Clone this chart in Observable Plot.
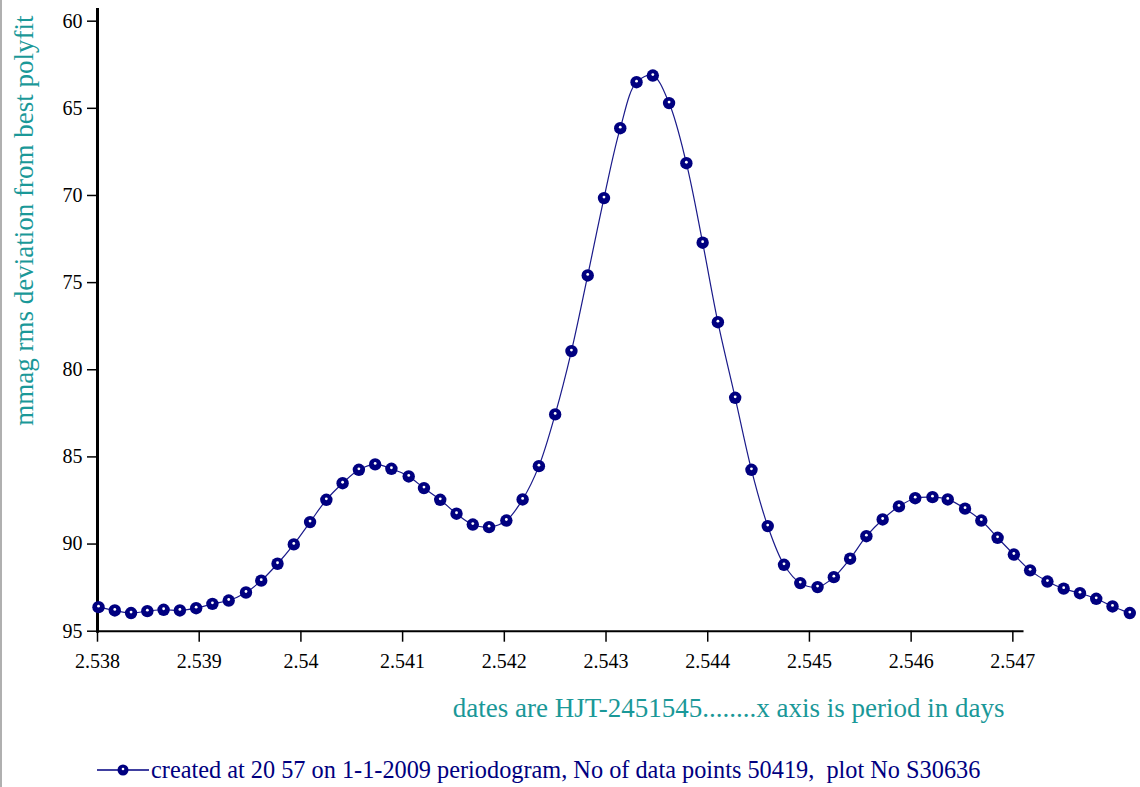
<!DOCTYPE html>
<html>
<head>
<meta charset="utf-8">
<script src="https://cdn.jsdelivr.net/npm/d3@7"></script>
<script src="https://cdn.jsdelivr.net/npm/@observablehq/plot@0.6"></script>
<style>
  html, body { margin: 0; padding: 0; background: #fff; }
  body { position: relative; width: 1140px; height: 787px; overflow: hidden; font-family: "Liberation Serif", "Times New Roman", serif; }
  #chart { position: absolute; left: 0; top: 0; }
  #edge { position: absolute; left: 0; top: 0; width: 2px; height: 787px; background: #b0b0b0; }
  #legend { position: absolute; left: 97px; top: 754px; height: 32px; display: flex; align-items: center; color: #000080; font-size: 24.3px; white-space: pre; }
  #legend svg { margin-right: 2px; }
</style>
</head>
<body>
<div id="chart"></div>
<div id="legend"></div>
<div id="edge"></div>
<script>
// period in days (x) and mmag rms deviation (y)
const periods = [
  2.53801, 2.53817, 2.53833, 2.53849, 2.53865, 2.53881, 2.53897, 2.53913,
  2.53929, 2.53946, 2.53961, 2.53977, 2.53993, 2.54009, 2.54025, 2.54041,
  2.54057, 2.54073, 2.54089, 2.54106, 2.54121, 2.54137, 2.54153, 2.54169,
  2.54185, 2.54202, 2.54218, 2.54234, 2.54250, 2.54266, 2.54282, 2.54298,
  2.54314, 2.54330, 2.54346, 2.54362, 2.54379, 2.54395, 2.54410, 2.54427,
  2.54443, 2.54459, 2.54475, 2.54491, 2.54508, 2.54524, 2.54540, 2.54556,
  2.54572, 2.54588, 2.54604, 2.54621, 2.54636, 2.54653, 2.54669, 2.54685,
  2.54701, 2.54717, 2.54734, 2.54750, 2.54766, 2.54782, 2.54798, 2.54815
];
const rmsDev = [
  93.62, 93.81, 93.96, 93.85, 93.77, 93.81, 93.68, 93.43,
  93.24, 92.78, 92.10, 91.13, 90.02, 88.74, 87.46, 86.51,
  85.74, 85.43, 85.68, 86.12, 86.79, 87.46, 88.26, 88.88,
  89.03, 88.65, 87.44, 85.53, 82.56, 78.93, 74.59, 70.15,
  66.14, 63.50, 63.12, 64.70, 68.15, 72.71, 77.27, 81.61,
  85.74, 88.97, 91.19, 92.24, 92.47, 91.90, 90.84, 89.55,
  88.59, 87.84, 87.37, 87.31, 87.44, 87.97, 88.65, 89.64,
  90.60, 91.51, 92.15, 92.56, 92.82, 93.14, 93.58, 93.96
];
const xTicks = [2.538, 2.539, 2.540, 2.541, 2.542, 2.543, 2.544, 2.545, 2.546, 2.547];
const yTicks = [60, 65, 70, 75, 80, 85, 90, 95];
const xDomain = [2.538, 2.54815];
const yDomain = [59.33, 95];
const xAxisEnd = 2.54711;

const yLabel = "mmag rms deviation from best polyfit";
const xLabel = "dates are HJT-2451545........x axis is period in days";
const legendText = "created at 20 57 on 1-1-2009 periodogram, No of data points 50419,  plot No S30636";

const data = periods.map((p, i) => ({ p, v: rmsDev[i] }));

const navy = "#000080";
const teal = "#1a9898";
const serif = "Liberation Serif, Times New Roman, serif";

const chart = Plot.plot({
  width: 1140,
  height: 730,
  marginLeft: 97,
  marginRight: 10.7,
  marginTop: 9,
  marginBottom: 99.3,
  style: { fontFamily: serif, color: "black", background: "white", overflow: "visible" },
  x: { domain: xDomain, ticks: xTicks },
  y: { domain: yDomain, reverse: true, ticks: yTicks },
  marks: [
    Plot.axisY({ ticks: yTicks, tickSize: 10, tickPadding: 5, fontSize: 20, label: null, strokeWidth: 1.5 }),
    Plot.axisX({ ticks: xTicks, tickSize: 11, tickPadding: 12, fontSize: 20, label: null, strokeWidth: 1.5,
      tickFormat: d => String(+d.toFixed(3)) }),
    Plot.frame({ anchor: "left", stroke: "black", strokeWidth: 3 }),
    Plot.ruleY([yDomain[1]], { x1: xDomain[0], x2: xAxisEnd, stroke: "black", strokeWidth: 2 }),
    Plot.line(data, { x: "p", y: "v", stroke: "#1a1a8a", strokeWidth: 1.2, curve: "catmull-rom" }),
    Plot.dot(data, { x: "p", y: "v", r: 6.2, fill: navy, stroke: "none" }),
    Plot.dot(data, { x: "p", y: "v", r: 1.4, fill: "white", stroke: "none", dy: -1 }),
    Plot.text([yLabel], { frameAnchor: "top-left", text: d => d, rotate: -90, textAnchor: "end",
      lineAnchor: "middle", dx: -73, dy: 6, fontSize: 27, fill: teal, fontFamily: serif }),
    Plot.text([xLabel], { frameAnchor: "bottom", text: d => d, textAnchor: "middle",
      lineAnchor: "middle", dx: 115, dy: 77, fontSize: 27, fill: teal, fontFamily: serif })
  ]
});
document.getElementById("chart").appendChild(chart);

// legend below the chart
const legend = document.getElementById("legend");
const sym = d3.create("svg").attr("width", 52).attr("height", 16);
sym.append("line").attr("x1", 0).attr("x2", 52).attr("y1", 8).attr("y2", 8).attr("stroke", navy).attr("stroke-width", 1.5);
sym.append("circle").attr("cx", 26).attr("cy", 8).attr("r", 5.5).attr("fill", navy);
sym.append("circle").attr("cx", 26).attr("cy", 7).attr("r", 1.3).attr("fill", "white");
legend.appendChild(sym.node());
const span = document.createElement("span");
span.textContent = legendText;
legend.appendChild(span);
</script>
</body>
</html>
